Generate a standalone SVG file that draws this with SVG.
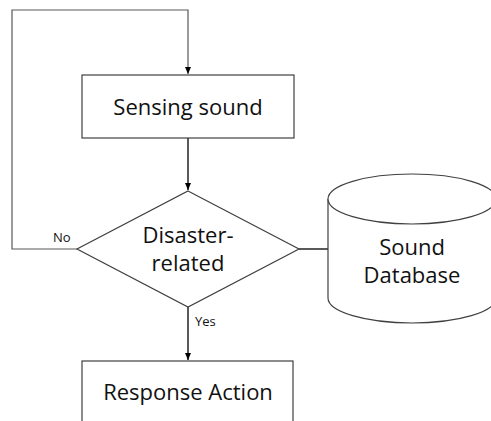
<svg xmlns="http://www.w3.org/2000/svg" width="491" height="421" viewBox="0 0 491 421">
<style>
.shape{fill:#fff;stroke:#404040;stroke-width:1.2}
.line{fill:none;stroke:#595959;stroke-width:1.2}
.arrow{fill:none;stroke:#000;stroke-width:1.3}
.t{font-family:"Open Sans","Liberation Sans",sans-serif;font-size:22px;fill:#111;text-anchor:middle}
.s{font-family:"Open Sans","Liberation Sans",sans-serif;font-size:13px;fill:#111}
</style>
<defs>
<marker id="ah" markerWidth="8" markerHeight="8" refX="7" refY="4" orient="auto" markerUnits="userSpaceOnUse">
<path d="M0,1 L7,4 L0,7 Z" fill="#000"/>
</marker>
</defs>
<rect width="491" height="421" fill="#fff"/>
<g id="connectors">
<polyline class="line" points="77,249 12,249 12,10 188,10 188,74" marker-end="url(#ah)"/>
<line class="arrow" x1="188" y1="138" x2="188" y2="190" marker-end="url(#ah)"/>
<line class="arrow" x1="188" y1="307" x2="188" y2="360" marker-end="url(#ah)"/>
<line class="arrow" x1="299" y1="249" x2="328" y2="249"/>
<text class="s" x="53" y="242">No</text>
<text class="s" x="195" y="326">Yes</text>
</g>
<g id="sensing">
<rect class="shape" x="82" y="75" width="212" height="63"/>
<text class="t" x="188" y="115">Sensing sound</text>
</g>
<g id="decision">
<polygon class="shape" points="188,191 299,249 188,307 77,249"/>
<text class="t" x="188" y="243">Disaster-</text>
<text class="t" x="188" y="271">related</text>
</g>
<g id="database">
<path class="shape" d="M328,199 L328,298 A84,25 0 0 0 496,298 L496,199"/>
<ellipse class="shape" cx="412" cy="199" rx="84" ry="25"/>
<text class="t" x="412" y="255">Sound</text>
<text class="t" x="412" y="283">Database</text>
</g>
<g id="response">
<rect class="shape" x="82" y="361" width="211" height="80"/>
<text class="t" x="188" y="400">Response Action</text>
</g>
</svg>
